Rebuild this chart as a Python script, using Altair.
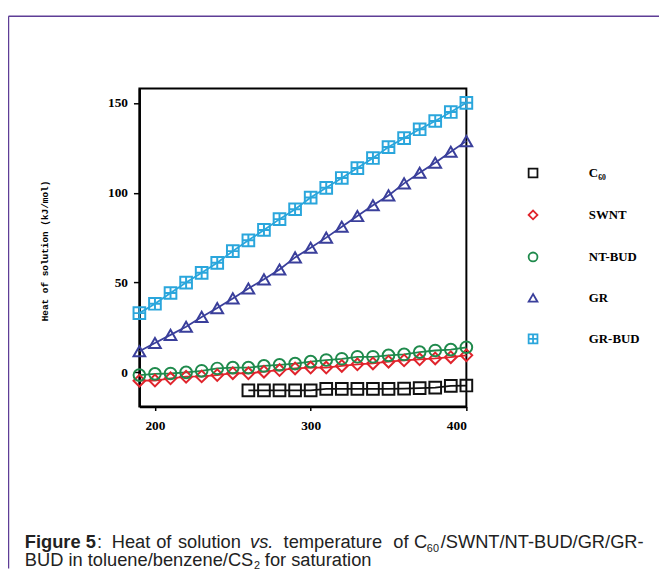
import altair as alt
import pandas as pd

# ---------------- data ----------------
temps = [190, 200, 210, 220, 230, 240, 250, 260, 270, 280, 290,
         300, 310, 320, 330, 340, 350, 360, 370, 380, 390, 400]
c60_temps = [260, 270, 280, 290, 300, 310, 320, 330, 340, 350, 360, 370, 380, 390, 400]

c60 = [-10, -10, -10, -10, -10, -9.2, -9.2, -9.2, -9.2, -9.2, -9.0, -8.7, -8.5, -7.5, -7.3]
swnt = [-4.6, -4.5, -3.3, -2.4, -2.2, -1.5, -0.4, -0.5, 0.4, 1.3, 2.2,
        2.7, 2.7, 3.6, 4.5, 5.0, 6.0, 6.7, 7.3, 7.8, 8.5, 9.5]
nt_bud = [-1.5, -0.8, -0.6, 0.0, 0.9, 2.2, 2.7, 2.7, 3.6, 4.2, 4.9,
          6.0, 6.9, 7.6, 8.7, 8.7, 9.5, 10.0, 11.3, 12.2, 12.7, 14.0]
gr = [11.8, 16.4, 20.9, 25.4, 30.9, 35.8, 41.2, 46.7, 51.8, 57.3, 64.0,
      69.4, 75.0, 81.1, 87.0, 93.0, 98.5, 105.2, 111.1, 116.7, 122.8, 128.7]
gr_bud = [33.0, 38.2, 44.2, 50.0, 55.4, 61.0, 67.5, 73.5, 79.3, 85.3, 90.8,
          97.3, 102.7, 108.2, 113.7, 119.3, 125.4, 130.4, 135.3, 139.9, 144.9, 150.0]

series_names = ["C\u2086\u2080", "SWNT", "NT-BUD", "GR", "GR-BUD"]
series_colors = ["#111111", "#e0242c", "#1f8a4c", "#3a3f9b", "#2aa6dc"]
series_shapes = ["square", "diamond", "circle", "triangle-up",
                 "M-1,-1L1,-1L1,1L-1,1Z M0,-1L0,1 M-1,0L1,0"]

x_ticks = [200, 300, 400]
y_ticks = [0, 50, 100, 150]

caption_pieces = [
    # text, page x, page baseline y, weight, style, size
    ("Figure 5", 25, 551, "bold", "normal", 18.5),
    (":", 98, 551, "normal", "normal", 18.5),
    ("Heat", 113, 551, "normal", "normal", 18.5),
    ("of", 158, 551, "normal", "normal", 18.5),
    ("solution", 180, 551, "normal", "normal", 18.5),
    ("vs.", 253, 551, "normal", "italic", 18.5),
    ("temperature", 287, 551, "normal", "normal", 18.5),
    ("of", 398, 551, "normal", "normal", 18.5),
    ("C", 419, 551, "normal", "normal", 18.5),
    ("60", 432, 555, "normal", "normal", 11),
    ("/SWNT/NT-BUD/GR/GR-", 446, 551, "normal", "normal", 18.5),
    ("BUD in toluene/benzene/CS", 25, 569, "normal", "normal", 18.5),
    ("2", 257, 572, "normal", "normal", 11),
    ("for saturation", 268, 569, "normal", "normal", 18.5),
]

# ---------------- build table ----------------
rows = []
for name, xs, ys in [
    (series_names[0], c60_temps, c60),
    (series_names[1], temps, swnt),
    (series_names[2], temps, nt_bud),
    (series_names[3], temps, gr),
    (series_names[4], temps, gr_bud),
]:
    for t, v in zip(xs, ys):
        rows.append({"T": t, "value": v, "series": name})
df = pd.DataFrame(rows)

# geometry of the plot area on the page
PL, PT = 141, 86          # plot-area top-left on page
W, H = 331, 322
pad_left, pad_top = PL - 8, PT - 8
pad_right = 659 - pad_left - W
pad_bottom = 564 - pad_top - H

color_scale = alt.Scale(domain=series_names, range=series_colors)
shape_scale = alt.Scale(domain=series_names, range=series_shapes)

x_enc = alt.X(
    "T:Q",
    scale=alt.Scale(domain=[190, 400], nice=False, zero=False),
    axis=alt.Axis(values=x_ticks, title="Temperature (K)", titleX=170, titleY=416,
                  titleBaseline="middle", titleAlign="center",
                  titleFont="Liberation Serif", titleFontWeight="bold", titleFontSize=13,
                  tickSize=4, labelPadding=8),
)
y_enc = alt.Y(
    "value:Q",
    scale=alt.Scale(domain=[-19, 158], nice=False, zero=False),
    axis=alt.Axis(values=y_ticks, title="Heat of solution (kJ/mol)", titleX=-96, titleY=164,
                  titleAngle=270, titleAlign="center", titleBaseline="middle",
                  titleFont="Liberation Mono", titleFontWeight="bold", titleFontSize=9.5,
                  tickSize=6, labelPadding=6),
)

legend = alt.Legend(
    title=None, orient="none", legendX=392, legendY=79, padding=0,
    symbolSize=80, symbolStrokeWidth=1.8, symbolFillColor="transparent",
    labelFont="Liberation Serif", labelFontWeight="bold", labelFontSize=13,
    labelColor="black", labelOffset=50, rowPadding=25.5,
)

lines = alt.Chart(df).mark_line(strokeWidth=1.8).encode(
    x=x_enc, y=y_enc,
    color=alt.Color("series:N", scale=color_scale, legend=legend),
    detail="series:N",
)
points = alt.Chart(df).mark_point(filled=False, strokeWidth=2, size=140, opacity=1).encode(
    x=x_enc, y=y_enc,
    color=alt.Color("series:N", scale=color_scale, legend=legend),
    shape=alt.Shape("series:N", scale=shape_scale, legend=legend),
)

one = pd.DataFrame({"k": [0]})
frame_top = alt.Chart(one).mark_rule(color="#5e3d96", strokeWidth=1.5).encode(
    x=alt.value(8.5 - PL), x2=alt.value(667 - PL), y=alt.value(13 - PT))
frame_left = alt.Chart(one).mark_rule(color="#5e3d96", strokeWidth=1.5).encode(
    x=alt.value(8.5 - PL), y=alt.value(13 - PT), y2=alt.value(572 - PT))

caption_layers = []
for text, px, py, wgt, sty, size in caption_pieces:
    caption_layers.append(
        alt.Chart(one).mark_text(
            align="left", baseline="alphabetic", font="Liberation Sans",
            fontSize=size, fontWeight=wgt, fontStyle=sty, color="#222222",
        ).encode(x=alt.value(px - PL), y=alt.value(py - PT), text=alt.value(text))
    )

chart = alt.layer(lines, points, frame_top, frame_left, *caption_layers).properties(
    width=W, height=H,
    autosize=alt.AutoSizeParams(type="none"),
    padding={"left": pad_left, "top": pad_top, "right": pad_right, "bottom": pad_bottom},
    background="white",
).configure_view(
    stroke="black", strokeWidth=2,
).configure_axis(
    grid=False, domainColor="black", domainWidth=2.2, tickColor="black", tickWidth=1.5,
    labelFont="Liberation Serif", labelFontWeight="bold", labelFontSize=13.5,
    labelColor="black", titleColor="black",
)

chart.save("out.html", embed_options={"renderer": "svg", "actions": False})
